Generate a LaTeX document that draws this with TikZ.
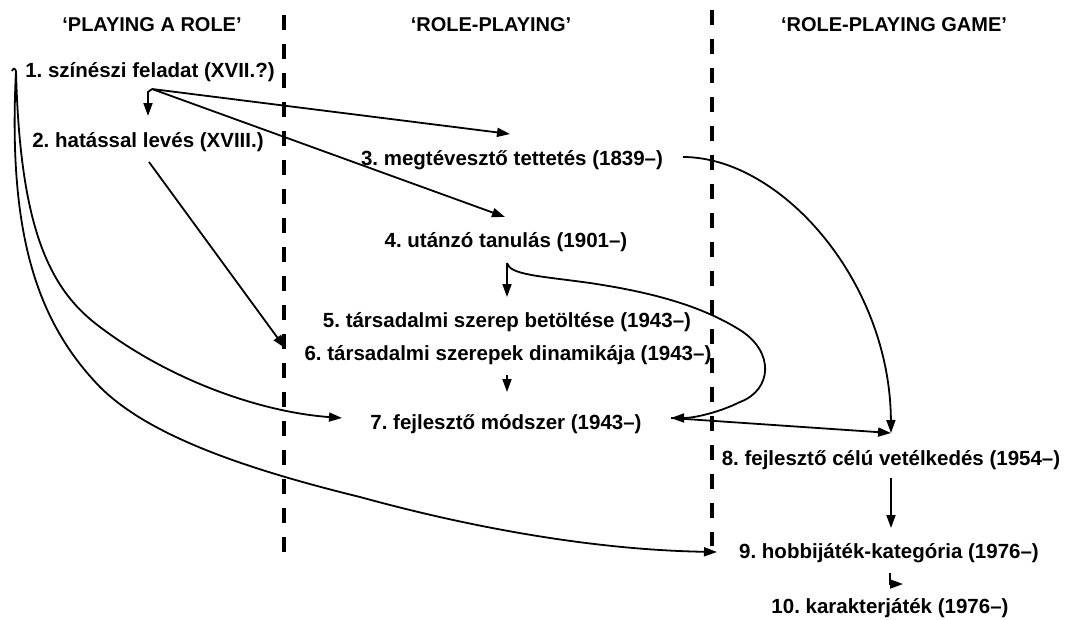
\documentclass[tikz,border=0pt]{standalone}
\usepackage{fontspec}
\setmainfont{Liberation Sans}
\usetikzlibrary{arrows.meta}
\begin{document}
\frenchspacing
\begin{tikzpicture}[x=1pt,y=-1pt,
  lbl/.style={anchor=base,inner sep=0pt,font=\fontsize{20.5}{24}\selectfont\bfseries},
  hdr/.style={anchor=base,inner sep=0pt,font=\fontsize{20}{24}\selectfont\bfseries},
  divider/.style={line width=4pt,dash pattern=on 15pt off 14pt},
  conn/.style={line width=1.8pt},
  arr/.style={conn,-{Triangle[length=13pt,width=9pt]}}]
\useasboundingbox (0,0) rectangle (1066,619);
\fill[white] (0,0) rectangle (1066,619);
% headers
\node[hdr] (h1) at (152,31.5) {‘PLAYING A ROLE’};
\node[hdr] (h2) at (491,31.5) {‘ROLE-PLAYING’};
\node[hdr] (h3) at (894,31.5) {‘ROLE-PLAYING GAME’};
% dividers
\coordinate (d1t) at (284,15); \coordinate (d1b) at (284,552);
\coordinate (d2t) at (712,10); \coordinate (d2b) at (712,546);
\draw[divider] (d1t) -- (d1b);
\draw[divider] (d2t) -- (d2b);
% nodes
\node[lbl] (n1) at (150,77) {1. színészi feladat (XVII.?)};
\node[lbl] (n2) at (148,147) {2. hatással levés (XVIII.)};
\node[lbl] (n3) at (512,165) {3. megtévesztő tettetés (1839–)};
\node[lbl] (n4) at (506,247) {4. utánzó tanulás (1901–)};
\node[lbl] (n5) at (507,327) {5. társadalmi szerep betöltése (1943–)};
\node[lbl] (n6) at (508,360) {6. társadalmi szerepek dinamikája (1943–)};
\node[lbl] (n7) at (506,429) {7. fejlesztő módszer (1943–)};
\node[lbl] (n8) at (891,465) {8. fejlesztő célú vetélkedés (1954–)};
\node[lbl] (n9) at (889,558) {9. hobbijáték-kategória (1976–)};
\node[lbl] (n10) at (890,613) {10. karakterjáték (1976–)};
% connection points
\coordinate (o1) at (152,89);
\coordinate (t2) at (148,116);
\coordinate (t3) at (510,134);
\coordinate (t4) at (505,217);
\coordinate (o2) at (149,162);
\coordinate (t6) at (285,348);
\coordinate (o3) at (683,157);
\coordinate (t8) at (891,433);
\coordinate (o4) at (507,263);
\coordinate (t5) at (507,297);
\coordinate (o6) at (507,375);
\coordinate (t7) at (507,392);
\coordinate (r7) at (671,418);
\coordinate (l7) at (342,418);
\coordinate (o8) at (891,478);
\coordinate (t9) at (891,528);
\coordinate (l9) at (717,552);
\coordinate (o9) at (890,573);
\coordinate (t10) at (903,584);
\coordinate (hk) at (16,71);
% arrows from 1
\draw[arr] (o1) -- (148,92) -- (t2);
\draw[arr] (o1) -- (t3);
\draw[arr] (o1) -- (t4);
\draw[arr] (o2) -- (t6);
% left long curves
\draw[conn] (12,71) .. controls (13,68) and (15,68) .. (hk);
\draw[arr] (hk) .. controls (8,230) and (35,320) .. (100,387)
  .. controls (150,437) and (250,470) .. (360,497)
  .. controls (480,530) and (600,550) .. (l9);
\draw[arr] (hk) .. controls (20,230) and (50,290) .. (100,327)
  .. controls (170,380) and (260,412) .. (l7);
% 3 -> 8
\draw[arr] (o3) .. controls (780,157) and (890,280) .. (t8);
% 4 -> 5, 4 -> 7 loop
\draw[arr] (o4) -- (t5);
\draw[arr] (o4) .. controls (510,275) and (540,276) .. (590,283)
  .. controls (650,292) and (700,305) .. (740,330)
  .. controls (775,352) and (772,390) .. (740,402)
  .. controls (720,412) and (695,418) .. (r7);
% 6 -> 7
\draw[arr] (o6) -- (t7);
% 7 -> 8
\draw[arr] (r7) -- (t8);
% 8 -> 9
\draw[arr] (o8) -- (t9);
% 9 -> 10
\draw[arr] (o9) -- (890,584) -- (t10);
\end{tikzpicture}
\end{document}
